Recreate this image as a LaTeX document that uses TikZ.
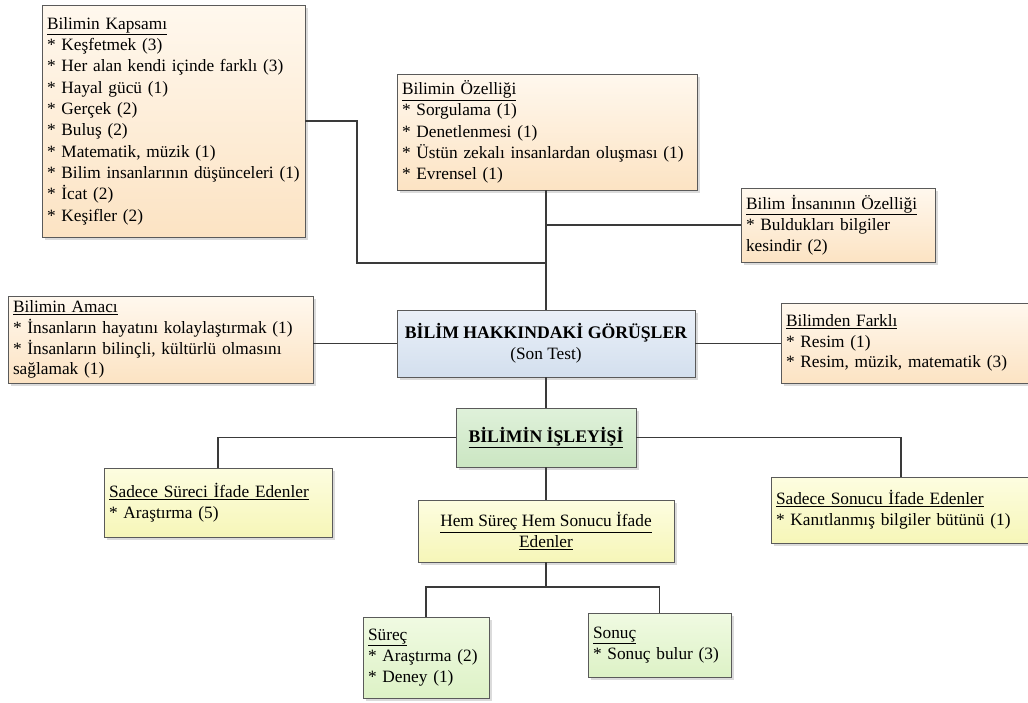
\documentclass[tikz,border=0pt]{standalone}
\usepackage{fontspec}
\setmainfont{Liberation Serif}
\usetikzlibrary{shadows}

\definecolor{peachtop}{HTML}{FFF8EE}
\definecolor{peachbot}{HTML}{FCE3C3}
\definecolor{bluetop}{HTML}{EAF0F8}
\definecolor{bluebot}{HTML}{D3DFEE}
\definecolor{greentop}{HTML}{DFF1DA}
\definecolor{greenbot}{HTML}{CBE6C2}
\definecolor{yeltop}{HTML}{FDFDE0}
\definecolor{yelbot}{HTML}{F6F6B8}
\definecolor{limetop}{HTML}{F0FAE2}
\definecolor{limebot}{HTML}{DDF2C6}
\definecolor{edge}{HTML}{5A5A5A}
\definecolor{wire}{HTML}{3A3A3A}

\tikzset{
  bx/.style={rectangle, draw=edge, line width=0.8pt,
    inner xsep=5pt, inner ysep=3pt, align=left,
    font=\fontsize{17.3}{20.8}\selectfont,
    drop shadow={shadow xshift=3pt, shadow yshift=-3pt, fill=black!14, opacity=1}},
  peach/.style={bx, top color=peachtop, bottom color=peachbot},
  blue/.style={bx, top color=bluetop, bottom color=bluebot},
  green/.style={bx, top color=greentop, bottom color=greenbot},
  yel/.style={bx, top color=yeltop, bottom color=yelbot},
  lime/.style={bx, top color=limetop, bottom color=limebot},
  wh/.style={minimum width=#1, text width=#1-10pt},
  link/.style={draw=wire, line width=1.7pt}
}

\begin{document}
\begin{tikzpicture}[x=1pt, y=-1pt]
\useasboundingbox (0,0) rectangle (1028,702);

% upper part: views about science
\node[peach, wh=263pt, minimum height=232pt, font=\fontsize{17.3}{21.3}\selectfont] (kap) at (173.5,121)
  {\underline{Bilimin Kapsamı}\\
   {*} Keşfetmek (3)\\
   \mbox{{*} Her alan kendi içinde farklı (3)}\\
   {*} Hayal gücü (1)\\
   {*} Gerçek (2)\\
   {*} Buluş (2)\\
   {*} Matematik, müzik (1)\\
   \mbox{{*} Bilim insanlarının düşünceleri (1)}\\
   {*} İcat (2)\\
   {*} Keşifler (2)};

\node[peach, wh=300pt, minimum height=116pt, font=\fontsize{17.3}{21.3}\selectfont] (oz) at (547,132)
  {\underline{Bilimin Özelliği}\\
   {*} Sorgulama (1)\\
   {*} Denetlenmesi (1)\\
   \mbox{{*} Üstün zekalı insanlardan oluşması (1)}\\
   {*} Evrensel (1)};

\node[peach, wh=194pt, minimum height=74pt] (ins) at (838,225)
  {\mbox{\underline{Bilim İnsanının Özelliği}}\\
   {*} Buldukları bilgiler\\
   kesindir (2)};

\node[peach, wh=305pt, minimum height=87pt] (ama) at (160.5,339.5)
  {\underline{Bilimin Amacı}\\
   \mbox{{*} İnsanların hayatını kolaylaştırmak (1)}\\
   \mbox{{*} İnsanların bilinçli, kültürlü olmasını}\\
   sağlamak (1)};

\node[blue, minimum width=298pt, minimum height=67pt, align=center] (cen) at (546,343.5)
  {{\fontsize{17.7}{21}\selectfont\bfseries BİLİM HAKKINDAKİ GÖRÜŞLER}\\
   (Son Test)};

\node[peach, wh=249pt, minimum height=80pt] (far) at (905.5,343)
  {\underline{Bilimden Farklı}\\
   {*} Resim (1)\\
   \mbox{{*} Resim, müzik, matematik (3)}};

% lower part: how science works
\node[green, minimum width=180pt, minimum height=59pt, align=center,
      font=\fontsize{17.7}{21}\selectfont] (isl) at (546,437.5)
  {\bfseries\underline{BİLİMİN İŞLEYİŞİ}};

\node[yel, wh=228pt, minimum height=69pt] (sur) at (218,502.5)
  {\mbox{\underline{Sadece Süreci İfade Edenler}}\\
   {*} Araştırma (5)};

\node[yel, minimum width=256pt, minimum height=62pt, align=center] (hem) at (546,531)
  {\underline{Hem Süreç Hem Sonucu İfade}\\
   \underline{Edenler}};

\node[yel, wh=260pt, minimum height=66pt] (son) at (901,510)
  {\mbox{\underline{Sadece Sonucu İfade Edenler}}\\
   \mbox{{*} Kanıtlanmış bilgiler bütünü (1)}};

\node[lime, wh=126pt, minimum height=81pt] (srec) at (426,657.5)
  {\underline{Süreç}\\
   \mbox{{*} Araştırma (2)}\\
   {*} Deney (1)};

\node[lime, wh=143pt, minimum height=64pt] (snc) at (659.5,645)
  {\underline{Sonuç}\\
   \mbox{{*} Sonuç bulur (3)}};

% connectors
\coordinate (kbend) at (357,263);
\coordinate (split) at (546,587);

\draw[link] (cen.north) -- (cen.north |- oz.south);
\draw[link] (kap.east) -| (kbend) -- (kbend -| cen.north);
\draw[link] (ins.west) -- (ins.west -| cen.north);
\draw[link] (cen.west) -- (cen.west -| ama.east);
\draw[link] (cen.east) -- (cen.east -| far.west);
\draw[link] (cen.south) -- (isl.north);
\draw[link] (isl.west) -| (sur.north);
\draw[link] (isl.east) -| (son.north);
\draw[link] (isl.south) -- (hem.north);
\draw[link] (hem.south) -- (split);
\draw[link] (srec.north) -- (srec.north |- split) -- (snc.north |- split) -- (snc.north);
\end{tikzpicture}
\end{document}
